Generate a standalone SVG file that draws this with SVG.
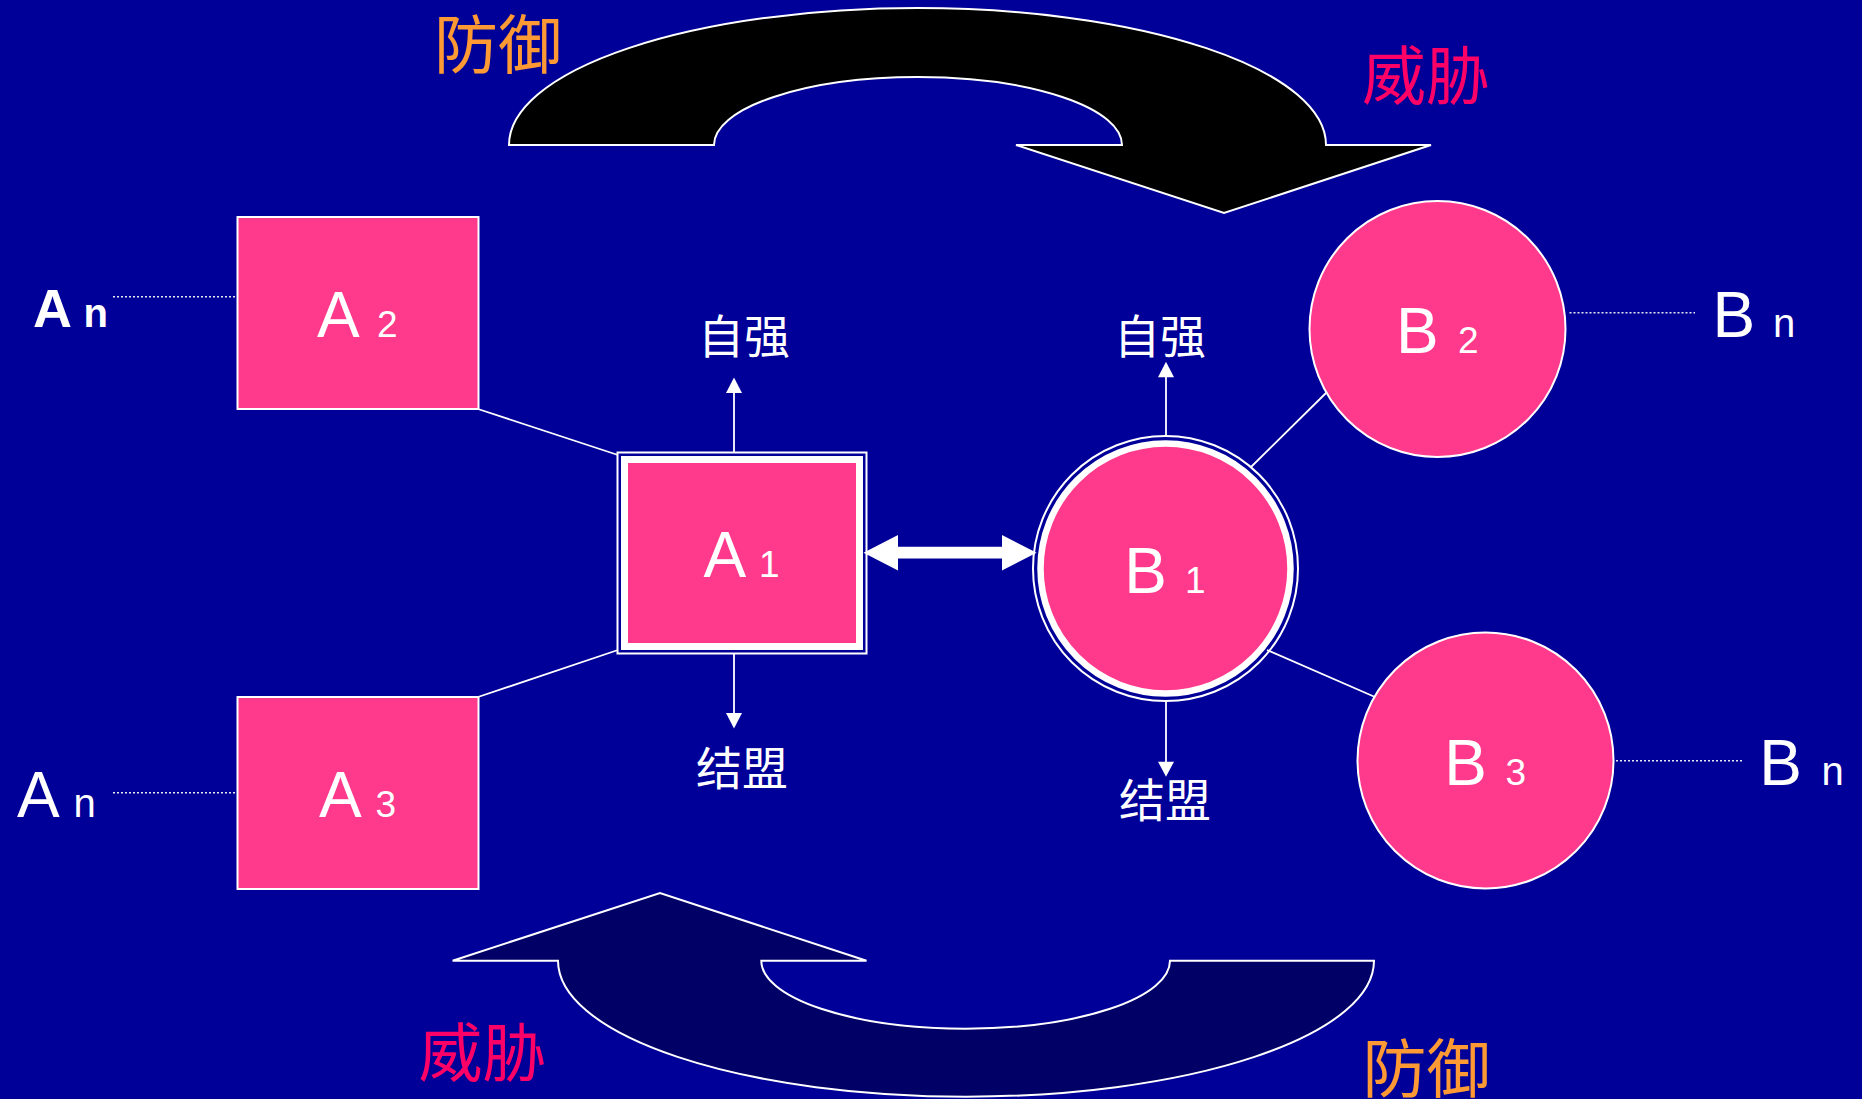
<svg xmlns="http://www.w3.org/2000/svg" width="1862" height="1099" viewBox="0 0 1862 1099">
<defs>
<style>
.lat{font-family:"Liberation Sans",Arial,sans-serif;fill:#fff}
.cjk{font-family:"Noto Sans CJK SC","Noto Sans",sans-serif}
.node{fill:#FF3A8C;stroke:#fff;stroke-width:2}
.ln{stroke:#fff;stroke-width:1.8;fill:none}
.dot{stroke:#e8e8f0;stroke-width:1.5;stroke-dasharray:2 2;fill:none}
.hd{fill:#fff}
</style>
</defs>
<rect x="0" y="0" width="1862" height="1099" fill="#000099"/>

<g id="connectors">
<line class="ln" x1="478" y1="409" x2="618" y2="455"/>
<line class="ln" x1="478" y1="697" x2="618" y2="650"/>
<line class="ln" x1="1251" y1="467" x2="1326.5" y2="392.5"/>
<line class="ln" x1="1267" y1="650" x2="1375" y2="697"/>
<line class="dot" x1="113" y1="296.7" x2="235" y2="296.7"/>
<line class="dot" x1="113" y1="792.7" x2="235" y2="792.7"/>
<line class="dot" x1="1569.5" y1="312.7" x2="1695" y2="312.7"/>
<line class="dot" x1="1616" y1="760.7" x2="1742" y2="760.7"/>
<line class="ln" x1="734" y1="452" x2="734" y2="391"/>
<polygon class="hd" points="734,377.5 726,393 742,393"/>
<line class="ln" x1="734" y1="653" x2="734" y2="715"/>
<polygon class="hd" points="734,728.5 726,713 742,713"/>
<line class="ln" x1="1166" y1="436" x2="1166" y2="376"/>
<polygon class="hd" points="1166,361.7 1158,377.3 1174,377.3"/>
<line class="ln" x1="1166" y1="701" x2="1166" y2="763"/>
<polygon class="hd" points="1166,776.7 1158,761.7 1174,761.7"/>
<polygon class="hd" points="863.5,552.7 898,535 898,546.8 1002,546.8 1002,535 1036.6,552.7 1002,570.5 1002,558.5 898,558.5 898,570.5"/>
</g>

<g id="arrow-top">
<path d="M 509 145 A 408.5 137 0 0 1 1326 145 L 1431 145 L 1224 213 L 1016 145 L 1122 145 A 204 68 0 0 0 714 145 Z" fill="#000" stroke="#fff" stroke-width="2"/>
</g>
<g id="arrow-bottom">
<path d="M 558 960.7 A 408 136 0 0 0 1374 960.7 L 1170 960.7 A 204.3 68 0 0 1 761.3 960.7 L 866.5 960.7 L 660 893 L 452.6 960.7 Z" fill="#000066" stroke="#fff" stroke-width="2"/>
</g>

<g id="A1">
<rect x="617.5" y="452.5" width="249" height="201" fill="none" stroke="#fff" stroke-width="2"/>
<rect x="624.5" y="459.5" width="235" height="187" fill="#FF3A8C" stroke="#fff" stroke-width="7"/>
<text class="lat" y="576.7"><tspan x="703.5" font-size="64">A</tspan><tspan x="759" font-size="37">1</tspan></text>
</g>
<g id="A2">
<rect class="node" x="237.5" y="217" width="241" height="192"/>
<text class="lat" y="337"><tspan x="317" font-size="64">A</tspan><tspan x="377" font-size="37">2</tspan></text>
</g>
<g id="A3">
<rect class="node" x="237.5" y="697" width="241" height="192"/>
<text class="lat" y="817"><tspan x="319" font-size="64">A</tspan><tspan x="375.5" font-size="37">3</tspan></text>
</g>
<g id="An-top">
<text class="lat" y="327" font-weight="bold"><tspan x="33" font-size="54">A</tspan><tspan x="83.5" font-size="40">n</tspan></text>
</g>
<g id="An-bottom">
<text class="lat" y="817"><tspan x="17" font-size="64">A</tspan><tspan x="73.4" font-size="40">n</tspan></text>
</g>

<g id="B1">
<circle cx="1165.5" cy="568.5" r="132.5" fill="none" stroke="#fff" stroke-width="2"/>
<circle cx="1165.5" cy="568.5" r="125" fill="#FF3A8C" stroke="#fff" stroke-width="6.5"/>
<text class="lat" y="593.3"><tspan x="1124.3" font-size="64">B</tspan><tspan x="1185" font-size="37">1</tspan></text>
</g>
<g id="B2">
<circle class="node" cx="1437.5" cy="329" r="128"/>
<text class="lat" y="353.3"><tspan x="1396" font-size="64">B</tspan><tspan x="1458" font-size="37">2</tspan></text>
</g>
<g id="B3">
<circle class="node" cx="1485.5" cy="760.5" r="128"/>
<text class="lat" y="785"><tspan x="1444.3" font-size="64">B</tspan><tspan x="1505.5" font-size="37">3</tspan></text>
</g>
<g id="Bn-top">
<text class="lat" y="336.7"><tspan x="1712.5" font-size="64">B</tspan><tspan x="1773" font-size="40">n</tspan></text>
</g>
<g id="Bn-bottom">
<text class="lat" y="785"><tspan x="1759.3" font-size="64">B</tspan><tspan x="1821.4" font-size="40">n</tspan></text>
</g>

<g id="labels">
<text class="cjk" x="744" y="353" font-size="46" fill="#fff" text-anchor="middle">自强</text>
<text class="cjk" x="1160" y="353" font-size="46" fill="#fff" text-anchor="middle">自强</text>
<text class="cjk" x="742" y="785" font-size="46" fill="#fff" text-anchor="middle">结盟</text>
<text class="cjk" x="1165" y="817" font-size="46" fill="#fff" text-anchor="middle">结盟</text>
<text class="cjk" x="498" y="68" font-size="64" fill="#FF9933" text-anchor="middle">防御</text>
<text class="cjk" x="1426" y="99" font-size="64" fill="#FF0066" text-anchor="middle">威胁</text>
<text class="cjk" x="482.5" y="1076" font-size="64" fill="#FF0066" text-anchor="middle">威胁</text>
<text class="cjk" x="1426.5" y="1092" font-size="64" fill="#FF9933" text-anchor="middle">防御</text>
</g>
</svg>
